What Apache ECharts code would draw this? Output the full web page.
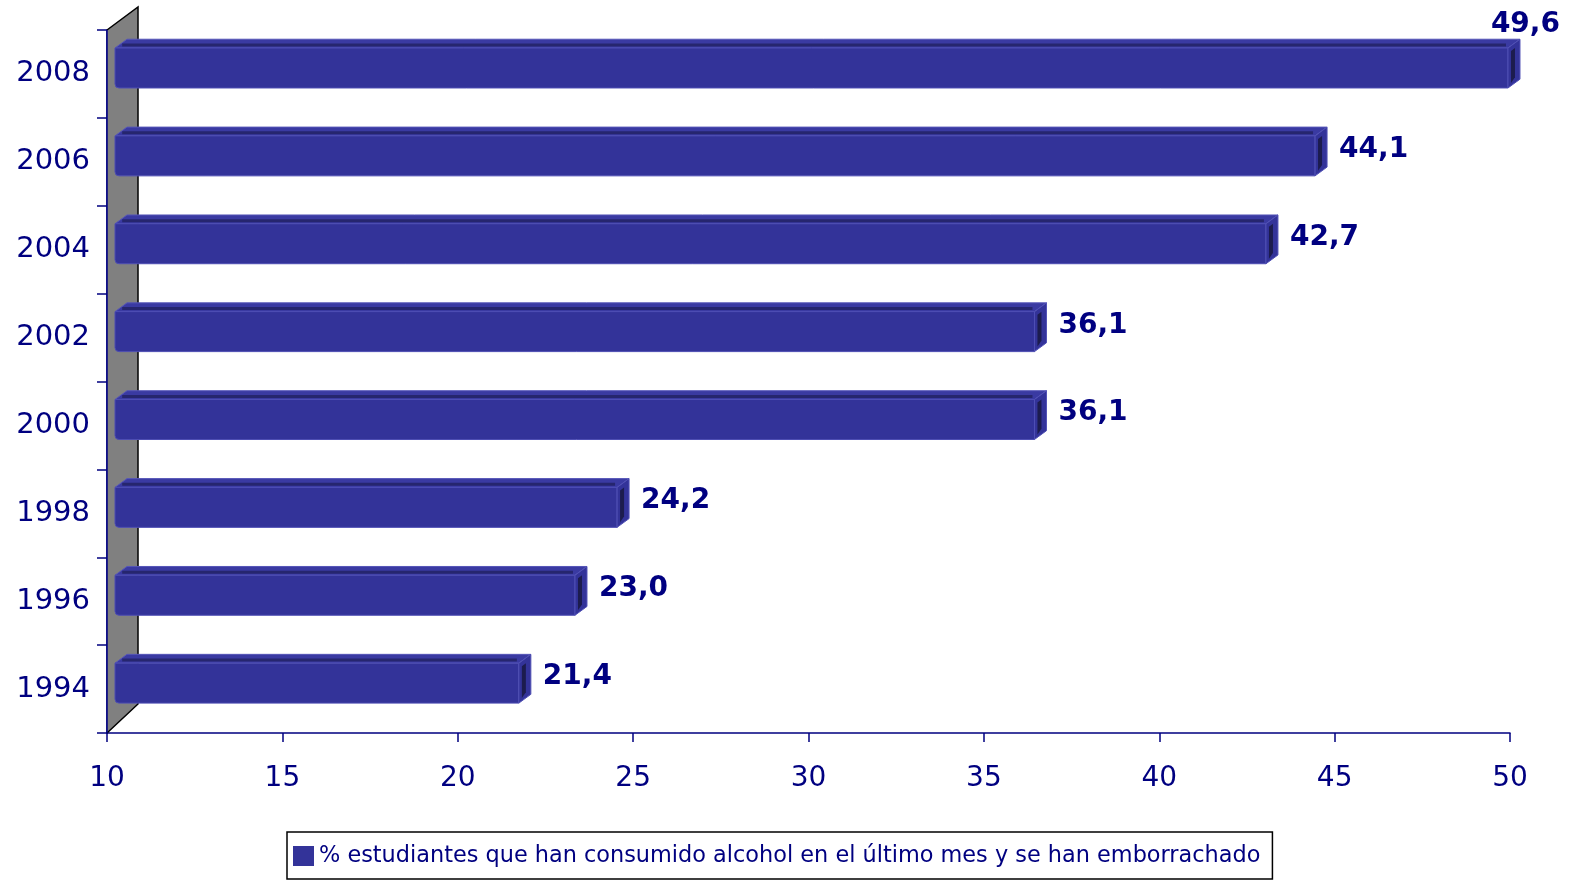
<!DOCTYPE html>
<html><head><meta charset="utf-8">
<script src="https://cdn.jsdelivr.net/npm/echarts@6/dist/echarts.min.js"></script>
<style>html,body{margin:0;padding:0;background:#fff}#c{width:1588px;height:888px}</style>
</head><body><div id="c"></div>
<script>
const years = ['1994','1996','1998','2000','2002','2004','2006','2008'];
const values = [21.4, 23.0, 24.2, 36.1, 36.1, 42.7, 44.1, 49.6];
const seriesName = '% estudiantes que han consumido alcohol en el último mes y se han emborrachado';
const xMin = 10, xMax = 50, xStep = 5;

const FONT = 'DejaVu Sans';
const NAVY = '#000080';
const BAR = '#333399';

function renderWall(params, api) {
  const cs = params.coordSys;
  const x = cs.x, y = cs.y, h = cs.height;
  const dx = 31, dy = -23;
  return {
    type: 'group',
    children: [
      { type: 'polygon', shape: { points: [[x, y + h], [x, y], [x + dx, y + dy], [x + dx, y + h + dy - 6]] },
        style: { fill: '#808080', stroke: null } },
      { type: 'polyline', shape: { points: [[x, y], [x + dx, y + dy], [x + dx, y + h + dy - 6], [x, y + h]] },
        style: { stroke: '#000', lineWidth: 1.5, fill: null } },
      { type: 'line', shape: { x1: x, y1: y, x2: x, y2: y + h }, style: { stroke: NAVY, lineWidth: 1.5 } }
    ]
  };
}

function renderBar(params, api) {
  const v = api.value(0), ci = api.value(1);
  const end = api.coord([v, ci]);
  const start = api.coord([xMin, ci]);
  const band = api.size([0, 1])[1];
  const cy = end[1];
  const fTop = cy - 0.295 * band, fBot = cy + 0.16 * band;
  const dx = 12, dy = -0.1 * band;
  const x0 = start[0] + 8, x1 = end[0] + 12;
  const label = v.toFixed(1).replace('.', ',');
  let tx = x1 + dx + 12, ty = cy - 0.14 * band, align = 'left';
  const W = api.getWidth();
  if (tx + 72 > W) { tx = x1 + dx + 40; ty = fTop + dy - 15; align = 'right'; }
  return {
    type: 'group',
    children: [
      { type: 'polygon', shape: { points: [[x0, fTop], [x0 + dx, fTop + dy], [x1 + dx, fTop + dy], [x1, fTop]] },
        style: { fill: '#3a3aa2', stroke: '#5555b8', lineWidth: 1 } },
      { type: 'line', shape: { x1: x0 + dx * 0.6, y1: fTop + dy * 0.35, x2: x1 - 2, y2: fTop + dy * 0.35 },
        style: { stroke: '#26266e', lineWidth: 3 } },
      { type: 'rect', shape: { x: x0, y: fTop, width: x1 - x0, height: fBot - fTop, r: [0, 0, 0, 4] },
        style: { fill: BAR, stroke: '#4d4db3', lineWidth: 1 } },
      { type: 'polygon', shape: { points: [[x1, fTop], [x1 + dx, fTop + dy], [x1 + dx, fBot + dy], [x1, fBot]] },
        style: { fill: BAR, stroke: '#5050b5', lineWidth: 1 } },
      { type: 'polygon', shape: { points: [[x1 + 3, fTop + 3], [x1 + 7, fTop], [x1 + 7, fBot + dy - 2], [x1 + 3, fBot - 5]] },
        style: { fill: '#1c1c4e' } },
      { type: 'text', x: tx, y: ty,
        style: { text: label, fill: NAVY, font: 'bold 28px "' + FONT + '"', textAlign: align, textVerticalAlign: 'middle' } }
    ]
  };
}

const chart = echarts.init(document.getElementById('c'));
chart.setOption({
  backgroundColor: '#fff',
  animation: false,
  grid: { left: 107, right: 78, top: 30, bottom: 155 },
  xAxis: {
    type: 'value', min: xMin, max: xMax, interval: xStep,
    axisLine: { show: true, lineStyle: { color: NAVY, width: 1.5 } },
    axisTick: { show: true, length: 9, lineStyle: { color: NAVY, width: 1.5 } },
    axisLabel: { color: NAVY, fontSize: 28, fontFamily: FONT, margin: 32 },
    splitLine: { show: false }
  },
  yAxis: {
    type: 'category', data: years, boundaryGap: true,
    axisLine: { show: true, lineStyle: { color: NAVY, width: 1.5 } },
    axisTick: { show: true, length: 10, lineStyle: { color: NAVY, width: 1.5 } },
    axisLabel: { color: NAVY, fontSize: 29, fontFamily: FONT, margin: 17 }
  },
  legend: {
    data: [seriesName], left: 287, bottom: 9,
    icon: 'rect', itemWidth: 21, itemHeight: 20, itemGap: 8,
    borderColor: '#000', borderWidth: 1.5, padding: [13, 12, 12, 6],
    textStyle: { color: NAVY, fontSize: 22.4, fontFamily: FONT },
    selectedMode: false
  },
  series: [
    { type: 'custom', name: 'wall', z: 1, renderItem: renderWall, data: [[xMin, 0]], silent: true },
    { type: 'custom', name: seriesName, z: 3, renderItem: renderBar, itemStyle: { color: BAR },
      encode: { x: 0, y: 1 },
      data: values.map((v, i) => [v, i]) }
  ]
});
</script></body></html>
